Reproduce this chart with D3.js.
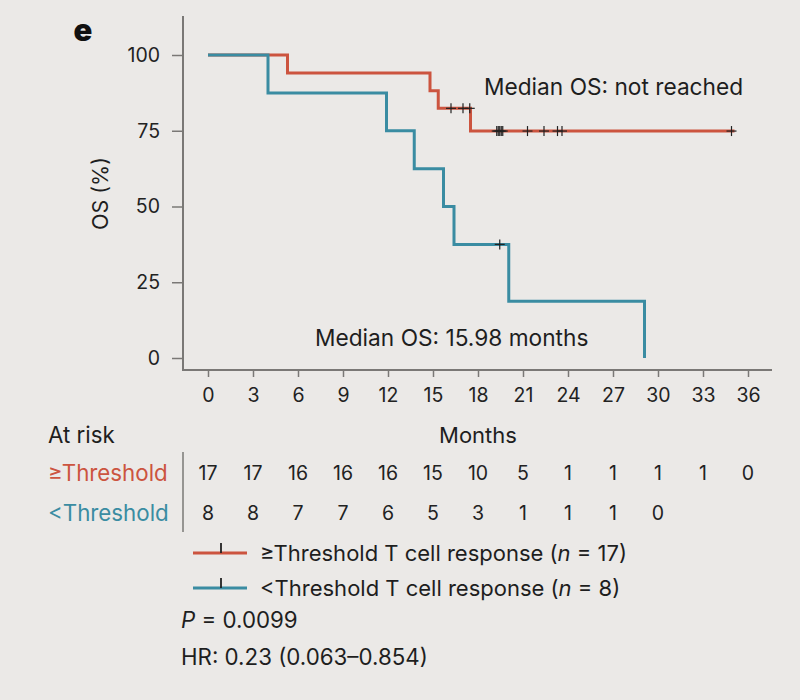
<!DOCTYPE html>
<html>
<head>
<meta charset="utf-8">
<script src="https://cdn.jsdelivr.net/npm/d3@7"></script>
<style>
  html, body { margin: 0; padding: 0; background: #ebe9e7; }
  svg { display: block; font-family: Inter, "Open Sans", sans-serif; }
</style>
</head>
<body>
<div id="chart"></div>
<script>
// survival steps
const hiTime = [0, 5.3, 14.8, 15.35, 17.5, 35.1];
const hiSurv = [100, 94.1, 88.2, 82.4, 74.9, 74.9];
const hiCensor = [16.2, 17.0, 17.45, 19.25, 19.35, 19.45, 19.55, 19.65, 21.3, 22.4, 23.3, 23.6, 34.9];

const loTime = [0, 4.0, 11.9, 13.75, 15.7, 16.4, 20.05, 29.1];
const loSurv = [100, 87.5, 75, 62.5, 50, 37.5, 18.75, 0];
const loCensor = [19.45];

const xTicks = [0, 3, 6, 9, 12, 15, 18, 21, 24, 27, 30, 33, 36];
const yTicks = [0, 25, 50, 75, 100];
const hiRisk = [17, 17, 16, 16, 16, 15, 10, 5, 1, 1, 1, 1, 0];
const loRisk = [8, 8, 7, 7, 6, 5, 3, 1, 1, 1, 0];

const red = "#cc543f";
const blue = "#3a8ca2";
const ink = "#1e1e1e";
const axisGrey = "#7a7876";

const W = 800, H = 700;
const svg = d3.select("#chart").append("svg")
    .attr("width", W)
    .attr("height", H);

svg.append("rect").attr("width", W).attr("height", H).attr("fill", "#ebe9e7");

const x = d3.scaleLinear().domain([0, 36]).range([208, 748]);
const y = d3.scaleLinear().domain([0, 100]).range([358, 55]);
const axisX0 = 183, axisY0 = 370;

// axes
svg.append("line")
    .attr("x1", axisX0).attr("x2", axisX0)
    .attr("y1", 16).attr("y2", axisY0)
    .attr("stroke", axisGrey).attr("stroke-width", 2);
svg.append("line")
    .attr("x1", axisX0 - 1).attr("x2", 772)
    .attr("y1", axisY0).attr("y2", axisY0)
    .attr("stroke", axisGrey).attr("stroke-width", 2);

const yAxis = svg.append("g")
    .attr("transform", `translate(${axisX0},0)`)
    .call(d3.axisLeft(y).tickValues(yTicks).tickSize(11).tickPadding(12));
yAxis.select(".domain").remove();
yAxis.selectAll(".tick line").attr("stroke", axisGrey).attr("stroke-width", 1.5);
yAxis.selectAll(".tick text")
    .style("font-size", "19.5px").style("font-family", "Inter, sans-serif")
    .attr("fill", "#222");

const xAxis = svg.append("g")
    .attr("transform", `translate(0,${axisY0})`)
    .call(d3.axisBottom(x).tickValues(xTicks).tickSize(7).tickPadding(11));
xAxis.select(".domain").remove();
xAxis.selectAll(".tick line").attr("stroke", axisGrey).attr("stroke-width", 1.5);
xAxis.selectAll(".tick text")
    .style("font-size", "19.5px").style("font-family", "Inter, sans-serif")
    .attr("fill", "#222");

// labels
svg.append("text")
    .attr("x", 83).attr("y", 41)
    .attr("text-anchor", "middle")
    .style("font-size", "31px").style("font-weight", "900")
    .attr("fill", "#111")
    .text("e");

svg.append("text")
    .attr("transform", `translate(108,${y(50) - 13}) rotate(-90)`)
    .attr("text-anchor", "middle")
    .style("font-size", "21.5px")
    .attr("fill", ink)
    .text("OS (%)");

svg.append("text")
    .attr("x", (x(0) + x(36)) / 2).attr("y", 443)
    .attr("text-anchor", "middle")
    .style("font-size", "22px")
    .attr("fill", ink)
    .text("Months");

// curves
const line = d3.line()
    .x(d => x(d[0]))
    .y(d => y(d[1]))
    .curve(d3.curveStepAfter);

const hiData = hiTime.map((t, i) => [t, hiSurv[i]]);
const loData = loTime.map((t, i) => [t, loSurv[i]]);

svg.append("path")
    .datum(hiData)
    .attr("fill", "none").attr("stroke", red).attr("stroke-width", 3)
    .attr("d", line);
svg.append("path")
    .datum(loData)
    .attr("fill", "none").attr("stroke", blue).attr("stroke-width", 3)
    .attr("d", line);

function survAt(times, surv, t) {
  let s = surv[0];
  times.forEach((tt, i) => { if (tt <= t) s = surv[i]; });
  return s;
}

function drawCensor(times, surv, cens) {
  const g = svg.append("g");
  cens.forEach(t => {
    const cx = x(t), cy = y(survAt(times, surv, t));
    g.append("line").attr("x1", cx).attr("x2", cx).attr("y1", cy - 5).attr("y2", cy + 5)
        .attr("stroke", "#222").attr("stroke-width", 1.2);
    g.append("line").attr("x1", cx - 5).attr("x2", cx + 5).attr("y1", cy).attr("y2", cy)
        .attr("stroke", "#222").attr("stroke-width", 1.2);
  });
}
drawCensor(hiTime, hiSurv, hiCensor);
drawCensor(loTime, loSurv, loCensor);

svg.append("text")
    .attr("x", 484).attr("y", 95)
    .style("font-size", "22.7px").attr("fill", ink)
    .text("Median OS: not reached");
svg.append("text")
    .attr("x", 315).attr("y", 346)
    .style("font-size", "22.7px").attr("fill", ink)
    .text("Median OS: 15.98 months");

// at-risk table
svg.append("text")
    .attr("x", 48).attr("y", 443)
    .style("font-size", "22.3px").attr("fill", ink)
    .text("At risk");
svg.append("text")
    .attr("x", 48).attr("y", 481)
    .style("font-size", "22.3px").attr("fill", red)
    .text("≥Threshold");
svg.append("text")
    .attr("x", 48).attr("y", 521)
    .style("font-size", "22.3px").attr("fill", blue)
    .text("<Threshold");
svg.append("line")
    .attr("x1", axisX0).attr("x2", axisX0)
    .attr("y1", 452).attr("y2", 532)
    .attr("stroke", axisGrey).attr("stroke-width", 1.5);

svg.append("g").selectAll("text")
    .data(hiRisk)
    .join("text")
    .attr("x", (d, i) => x(xTicks[i])).attr("y", 480)
    .attr("text-anchor", "middle")
    .style("font-size", "19.5px").attr("fill", "#222")
    .text(d => d);
svg.append("g").selectAll("text")
    .data(loRisk)
    .join("text")
    .attr("x", (d, i) => x(xTicks[i])).attr("y", 520)
    .attr("text-anchor", "middle")
    .style("font-size", "19.5px").attr("fill", "#222")
    .text(d => d);

// legend
const legend = [
  { color: red, label: "≥Threshold T cell response (", n: "17", y: 553 },
  { color: blue, label: "<Threshold T cell response (", n: "8", y: 588 }
];
legend.forEach(l => {
  svg.append("line")
      .attr("x1", 193).attr("x2", 247).attr("y1", l.y).attr("y2", l.y)
      .attr("stroke", l.color).attr("stroke-width", 3);
  svg.append("line")
      .attr("x1", 221).attr("x2", 221).attr("y1", l.y - 10).attr("y2", l.y)
      .attr("stroke", "#222").attr("stroke-width", 1.8);
  const t = svg.append("text")
      .attr("x", 260).attr("y", l.y + 8)
      .style("font-size", "22px").attr("fill", ink);
  t.append("tspan").text(l.label);
  t.append("tspan").style("font-style", "italic").text("n");
  t.append("tspan").text(" = " + l.n + ")");
});

const pText = svg.append("text")
    .attr("x", 181).attr("y", 628)
    .style("font-size", "22.3px").attr("fill", ink);
pText.append("tspan").style("font-style", "italic").text("P");
pText.append("tspan").text(" = 0.0099");

svg.append("text")
    .attr("x", 181).attr("y", 665)
    .style("font-size", "22.3px").attr("fill", ink)
    .text("HR: 0.23 (0.063–0.854)");
</script>
</body>
</html>
